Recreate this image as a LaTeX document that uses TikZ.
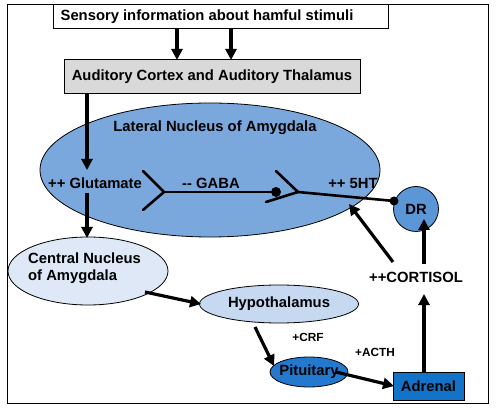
\documentclass[tikz,border=0pt]{standalone}
\usepackage{fontspec}
\setmainfont{Liberation Sans}
\usetikzlibrary{arrows.meta,shapes.geometric}
\definecolor{latblue}{HTML}{7BA8DC}
\definecolor{drblue}{HTML}{5B96D6}
\definecolor{pitblue}{HTML}{2279CE}
\definecolor{adrblue}{HTML}{1273C8}
\definecolor{cenblue}{HTML}{DEE8F6}
\definecolor{hypblue}{HTML}{C6D9F1}
\definecolor{boxgray}{HTML}{D9D9D9}
\tikzset{
  lbl/.style={font=\bfseries\fontsize{14.8}{17.5}\selectfont, inner sep=0pt},
  small/.style={font=\bfseries\fontsize{11.8}{14}\selectfont, inner sep=0pt},
  oval/.style={ellipse, draw=black, line width=0.8pt, inner sep=0pt},
  arr/.style={line width=3.2pt, -{Triangle[length=11pt,width=11pt]}},
  syn/.style={line width=2.6pt, line cap=round},
}
\begin{document}
\begin{tikzpicture}[x=1pt,y=-1pt]
\useasboundingbox (0,0) rectangle (500,411);
% frame
\node[draw=black, line width=1pt, minimum width=481pt, minimum height=399pt, inner sep=0pt, anchor=north west] (frame) at (7,4) {};
% boxes
\node[draw=black, line width=1pt, fill=white, minimum width=335pt, minimum height=24pt, inner sep=0pt] (sens) at (220.5,17) {};
\node[lbl] (senst) at (207,17) {Sensory information about hamful stimuli};
\node[draw=black, line width=1pt, fill=boxgray, minimum width=296pt, minimum height=34pt, inner sep=0pt] (aud) at (212,77) {};
\node[lbl] (audt) at (aud.center) {Auditory Cortex and Auditory Thalamus};
% lateral nucleus
\node[oval, fill=latblue, minimum width=340pt, minimum height=134pt] (lat) at (210,170) {};
\node[lbl] (latt) at (215,128) {Lateral Nucleus of Amygdala};
\node[lbl] (glu) at (95,183) {++ Glutamate};
\node[lbl] (gaba) at (211,183) {{-}{-} GABA};
\node[lbl] (sht) at (353,183) {++ 5HT};
% DR
\node[circle, draw=black, line width=0.8pt, fill=drblue, minimum size=45pt, inner sep=0pt] (dr) at (416,209) {};
\node[lbl] at (dr.center) {DR};
% central nucleus
\node[oval, fill=cenblue, minimum width=160pt, minimum height=68pt] (cen) at (88,271) {};
\node[lbl, align=left, anchor=west] (cent) at (28,268) {Central Nucleus\\of Amygdala};
% hypothalamus
\node[oval, fill=hypblue, minimum width=159pt, minimum height=38pt] (hyp) at (279,304) {};
\node[lbl] at (hyp.center) {Hypothalamus};
% pituitary
\node[oval, fill=pitblue, minimum width=78pt, minimum height=30pt] (pit) at (309,372) {};
\node[lbl] at (pit.center) {Pituitary};
% adrenal
\node[draw=black, line width=1pt, fill=adrblue, minimum width=71pt, minimum height=28pt, inner sep=0pt] (adr) at (428.5,386) {};
\node[lbl] at (adr.center) {Adrenal};
% cortisol
\node[lbl] (cort) at (416,277) {++CORTISOL};
\node[small] (crf) at (308,337) {+CRF};
\node[small] (acth) at (375,352) {+ACTH};
% coordinates
\coordinate (s1) at (177,29);
\coordinate (s2) at (231,29);
\coordinate (a1) at (177,60);
\coordinate (a2) at (231,60);
\coordinate (audb) at (87,94);
\coordinate (glut) at (87,170);
\coordinate (glub) at (87,193);
\coordinate (cent0) at (87,238);
% arrows
\draw[arr] (s1) -- (a1);
\draw[arr] (s2) -- (a2);
\draw[arr] (audb) -- (glut);
\draw[arr] (glub) -- (cent0);
% synapse 1
\coordinate (y1) at (164,192);
\coordinate (y1a) at (143,171);
\coordinate (y1b) at (143,210);
\coordinate (d1) at (276,192);
\draw[syn] (y1a) -- (y1) -- (y1b);
\draw[syn] (y1) -- (d1);
\fill (d1) circle (5pt);
% synapse 2
\coordinate (y2) at (298,192);
\coordinate (y2a) at (276,171);
\coordinate (y2b) at (266,202);
\coordinate (d2) at (394,201);
\draw[syn] (y2a) -- (y2) -- (y2b);
\draw[syn] (y2) -- (d2);
\fill (d2) circle (4.5pt);
% cortisol arrows
\coordinate (c1) at (393,262);
\coordinate (c2) at (349,204);
\draw[arr] (c1) -- (c2);
\coordinate (cu) at (424,264);
\coordinate (dru) at (424,219);
\draw[arr] (cu) -- (dru);
\coordinate (adt) at (424,372);
\coordinate (cb) at (424,294);
\draw[arr] (adt) -- (cb);
% lower chain
\coordinate (ce1) at (145,292);
\coordinate (h1) at (201,304);
\draw[arr] (ce1) -- (h1);
\coordinate (h2) at (255,327);
\coordinate (p1) at (274,366);
\draw[arr] (h2) -- (p1);
\coordinate (p2) at (336,372);
\coordinate (ad1) at (394,386);
\draw[arr] (p2) -- (ad1);
\end{tikzpicture}
\end{document}
